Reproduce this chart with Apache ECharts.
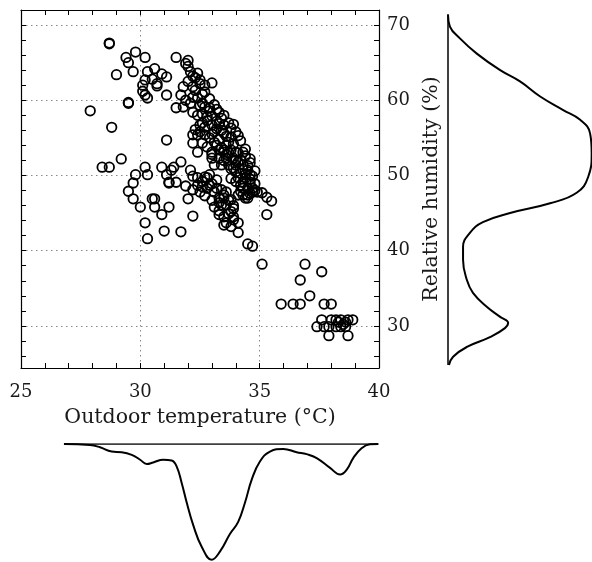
<!DOCTYPE html>
<html>
<head>
<meta charset="utf-8">
<script src="https://cdn.jsdelivr.net/npm/echarts@6/dist/echarts.min.js"></script>
<style>
  html, body { margin: 0; padding: 0; background: #fff; }
  #chart { width: 592px; height: 562px; }
</style>
</head>
<body>
<div id="chart"></div>
<script>
// scatter points: outdoor temperature (°C) and relative humidity (%)
const temps = [
  28.7, 28.7, 29.4, 29.8, 30.2, 29.5, 29.0, 29.7, 30.3, 30.6, 30.9, 31.1, 30.2, 30.5, 30.7, 30.7, 30.1, 30.1, 30.2, 30.3, 31.1, 29.5, 29.5, 27.9, 28.8, 31.1,
  31.5, 32.0, 31.9, 32.0, 32.1, 32.4, 32.3, 32.5, 33.0, 31.8, 32.2, 32.7, 31.7, 32.2, 32.7, 32.4, 31.5, 31.8, 32.2, 32.7, 33.1, 33.3, 32.4, 32.8, 33.4, 33.5, 32.5, 33.0,
  32.2, 32.4, 32.7, 33.1, 33.5, 34.0, 33.8, 32.2, 32.6, 33.1, 33.7, 32.4, 33.0, 33.5, 34.0, 34.3,
  34.6, 31.7, 31.4, 31.3, 30.9, 31.2, 31.5, 32.1, 32.2, 32.4, 32.7, 32.8, 32.4, 32.6, 32.8, 32.5, 33.1, 33.4, 33.6, 33.0, 33.3, 33.5, 33.7,
  33.1, 33.4, 33.6, 33.3, 33.8, 33.9, 33.5, 33.6, 34.1, 33.5, 34.1, 33.8, 34.5, 34.7, 35.1, 32.0, 32.2, 31.2, 31.7, 31.0,
  34.9, 35.1, 35.3, 35.5, 35.3, 34.7, 34.5, 34.4, 34.2, 34.4, 34.6,
  33.3, 33.5, 33.8, 34.1, 33.0, 33.3, 33.6, 33.9, 34.2, 33.1, 33.4, 33.7, 34.0, 34.3, 34.5, 34.0, 34.2, 34.4, 34.6, 34.1, 34.3, 34.3, 34.5, 34.1, 34.3, 34.5,
  29.2, 28.4, 28.7, 30.2, 29.8, 30.3, 31.1, 29.7, 29.5, 29.7, 30.5, 30.6, 30.0, 30.6, 30.9, 30.2, 30.3, 31.2, 32.9,
  36.9, 37.6, 36.7, 37.1, 35.9, 36.4, 36.7, 37.7, 38.0, 37.6, 38.0, 38.2, 38.4, 38.7, 38.9, 37.4, 37.7, 37.9, 38.2, 38.4, 38.6, 37.9, 38.7, 38.3, 38.5, 38.6,
  32.9, 33.2, 32.6, 32.9, 33.3, 32.8, 33.6, 33.2, 33.8, 32.3, 32.9, 32.6, 33.0, 33.6, 34.0, 33.8, 34.5, 34.6, 34.8, 34.7, 33.2, 33.0, 33.8, 33.3, 32.7, 32.2, 31.9, 33.9,
  32.5, 32.9, 33.2, 32.6, 33.0, 33.5, 32.8, 33.3, 33.7, 32.7, 33.4, 33.9, 32.5, 33.0, 33.6, 34.1,
  33.2, 33.9, 34.2, 33.4, 34.4, 33.7, 34.4, 33.5, 34.1, 34.6, 33.9, 34.8, 34.3, 34.7, 34.0, 34.8, 34.2, 34.6,
  32.6, 32.9, 33.2, 33.5, 33.8, 33.9, 33.7, 33.3, 33.9,
  32.2, 32.5, 32.0, 32.3, 32.6, 31.9, 32.1
];
const hums = [
  67.5, 67.6, 65.7, 66.4, 65.7, 65.0, 63.4, 63.8, 63.8, 64.2, 63.5, 63.1, 62.7, 62.8, 61.9, 62.2, 62.0, 61.2, 60.7, 60.3, 60.7, 59.6, 59.7, 58.6, 56.4, 54.7,
  65.7, 65.3, 64.9, 64.5, 63.8, 63.6, 63.0, 62.7, 62.3, 61.8, 61.8, 62.0, 60.7, 60.4, 61.1, 60.3, 59.0, 59.1, 58.4, 59.1, 59.4, 58.4, 58.0, 57.8, 57.6, 56.7, 56.7, 56.7,
  55.4, 55.4, 55.4, 55.8, 55.6, 55.8, 55.1, 54.3, 54.3, 54.4, 54.4, 53.1, 53.1, 53.4, 53.1, 53.1,
  52.2, 51.8, 51.1, 50.7, 51.1, 49.1, 49.1, 50.7, 49.9, 49.7, 49.8, 49.7, 48.7, 48.5, 48.3, 47.8, 47.8, 48.1, 47.8, 46.7, 47.0, 47.0, 46.7,
  45.8, 46.1, 46.1, 44.8, 45.2, 44.5, 44.5, 43.7, 43.7, 43.4, 42.4, 43.2, 40.9, 40.6, 38.2, 46.9, 44.6, 45.8, 42.5, 42.6,
  47.8, 47.7, 47.1, 46.6, 44.8, 48.3, 47.4, 47.0, 48.7, 49.7, 49.1,
  53.4, 53.1, 53.4, 53.0, 52.3, 52.3, 52.3, 52.3, 52.1, 51.4, 51.4, 51.4, 51.4, 51.4, 50.7, 50.5, 50.3, 50.1, 50.1, 49.7, 49.1, 48.3, 48.3, 47.4, 47.4, 47.0,
  52.2, 51.1, 51.1, 51.1, 50.1, 50.1, 50.1, 49.0, 47.9, 46.9, 46.9, 46.9, 45.8, 45.8, 44.8, 43.7, 41.6, 49.0, 50.1,
  38.2, 37.2, 36.1, 34.0, 32.9, 32.9, 32.9, 32.9, 32.9, 30.8, 30.8, 30.8, 30.8, 30.8, 30.8, 29.9, 29.9, 29.9, 29.9, 29.9, 29.9, 28.7, 28.7, 30.5, 30.2, 30.5,
  58.6, 57.2, 57.0, 55.0, 54.8, 53.8, 54.0, 56.2, 56.3, 56.1, 60.2, 59.6, 52.8, 52.8, 52.0, 50.9, 51.3, 49.5, 48.9, 47.8, 49.4, 48.9, 49.6, 46.4, 47.3, 48.1, 48.6, 46.0,
  59.3, 59.0, 58.8, 58.2, 57.9, 58.0, 57.3, 56.9, 57.0, 56.4, 56.0, 56.8, 55.8, 55.5, 55.2, 55.3,
  54.0, 54.2, 54.6, 53.7, 53.5, 53.0, 52.6, 52.0, 51.8, 51.7, 51.0, 50.6, 50.8, 49.9, 49.2, 48.0, 47.9, 47.6,
  49.2, 48.7, 48.3, 47.4, 46.8, 45.6, 44.9, 45.3, 44.1,
  63.2, 62.2, 62.5, 61.3, 60.8, 60.0, 59.6
];

// marginal density of humidity (right panel)
const humGrid = [71.4, 69.8, 68.2, 66.2, 64.0, 62.5, 60.5, 58.7, 57.4, 55.6, 53.0, 49.8, 47.7, 46.3, 45.0, 43.8, 42.4, 40.5, 38.8, 36.1, 34.4, 32.5, 31.2, 30.4, 29.7, 28.5, 27.2, 25.9, 24.8];
const humDensity = [0, 0.0006, 0.0038, 0.009, 0.0163, 0.0225, 0.0288, 0.036, 0.0413, 0.0444, 0.0449, 0.0438, 0.0402, 0.0319, 0.0194, 0.0109, 0.0069, 0.0047, 0.0047, 0.0059, 0.0078, 0.0122, 0.0163, 0.0188, 0.0178, 0.0131, 0.0059, 0.0016, 0.0003];

// marginal density of temperature (bottom panel)
const tempGrid = [26.80, 27.89, 28.31, 28.80, 29.22, 29.64, 29.99, 30.27, 30.54, 30.96, 31.31, 31.52, 31.73, 31.94, 32.22, 32.57, 32.99, 33.34, 33.76, 34.10, 34.39, 34.67, 35.01, 35.43, 35.99, 36.55, 36.97, 37.39, 37.95, 38.37, 38.65, 38.92, 39.27, 39.62, 39.97];
const tempDensity = [0, 0.0025, 0.0083, 0.0193, 0.0208, 0.0275, 0.04, 0.0508, 0.0468, 0.04, 0.0418, 0.0568, 0.0983, 0.148, 0.207, 0.261, 0.294, 0.273, 0.228, 0.198, 0.148, 0.09, 0.0443, 0.0193, 0.0125, 0.0208, 0.0258, 0.0358, 0.0608, 0.0775, 0.065, 0.0358, 0.0108, 0.0008, 0];

// tick labels
const xTicks = [25, 30, 35, 40];
const yTicks = [30, 40, 50, 60, 70];
const yMinorTicks = [];
for (let v = 26; v <= 72; v += 2) yMinorTicks.push(v);

const FONT = "'DejaVu Serif', 'Liberation Serif', serif";
const INK = '#000';
const TEXT = '#1a1a1a';

const chart = echarts.init(document.getElementById('chart'));

const boxLine = { show: true, onZero: false, lineStyle: { color: INK, width: 1.2 } };
const hidden = {
  axisLine: { show: false }, axisTick: { show: false },
  axisLabel: { show: false }, splitLine: { show: false }
};

const option = {
  animation: false,
  backgroundColor: '#fff',
  grid: [
    { left: 21, top: 10, width: 358, height: 358 },
    { left: 448, top: 10, width: 144, height: 358 },
    { left: 21, top: 444, width: 358, height: 120 }
  ],
  xAxis: [
    {
      type: 'value', gridIndex: 0, position: 'bottom',
      min: 25, max: 40, interval: 5,
      axisLine: boxLine,
      axisTick: { show: true, inside: true, length: 5, lineStyle: { color: INK, width: 1 } },
      minorTick: { show: true, splitNumber: 5, length: 5, lineStyle: { color: INK, width: 1 } },
      axisLabel: {
        customValues: xTicks, margin: 15,
        fontFamily: FONT, fontSize: 18, color: TEXT
      },
      splitLine: { show: true, lineStyle: { color: '#888', width: 1, type: [1.5, 3.5] } },
      name: 'Outdoor temperature (°C)', nameLocation: 'middle', nameGap: 39,
      nameTextStyle: { fontFamily: FONT, fontSize: 20.5, color: TEXT }
    },
    {
      type: 'value', gridIndex: 0, position: 'top',
      min: 25, max: 40, interval: 5,
      axisLine: boxLine,
      axisTick: { show: true, inside: true, length: 5, lineStyle: { color: INK, width: 1 } },
      minorTick: { show: true, splitNumber: 5, length: 5, lineStyle: { color: INK, width: 1 } },
      axisLabel: { show: false },
      splitLine: { show: false }
    },
    Object.assign({ type: 'value', gridIndex: 1, min: 0, max: 0.045 }, hidden),
    Object.assign({ type: 'value', gridIndex: 2, min: 25, max: 40 }, hidden)
  ],
  yAxis: [
    {
      type: 'value', gridIndex: 0, position: 'right',
      min: 24.4, max: 72,
      axisLine: boxLine,
      axisTick: { show: true, inside: true, length: 5, customValues: yMinorTicks, lineStyle: { color: INK, width: 1 } },
      axisLabel: {
        customValues: yTicks, margin: 8,
        fontFamily: FONT, fontSize: 18, color: TEXT
      },
      splitLine: { show: false },
      name: 'Relative humidity (%)', nameLocation: 'middle', nameGap: 39, nameRotate: 90,
      nameTextStyle: { fontFamily: FONT, fontSize: 20.5, color: TEXT }
    },
    {
      type: 'value', gridIndex: 0, position: 'left',
      min: 24.4, max: 72,
      axisLine: boxLine,
      axisTick: { show: true, inside: true, length: 5, customValues: yMinorTicks, lineStyle: { color: INK, width: 1 } },
      axisLabel: { show: false },
      splitLine: { show: false }
    },
    {
      type: 'value', gridIndex: 0, position: 'left',
      min: 24.4, max: 72,
      axisLine: { show: false },
      axisTick: { show: false, customValues: yTicks },
      axisLabel: { show: false },
      splitLine: { show: true, lineStyle: { color: '#888', width: 1, type: [1.5, 3.5] } }
    },
    Object.assign({ type: 'value', gridIndex: 1, min: 24.4, max: 72 }, hidden),
    Object.assign({ type: 'value', gridIndex: 2, min: 0, max: 0.3, inverse: true }, hidden)
  ],
  series: [
    {
      type: 'scatter', xAxisIndex: 0, yAxisIndex: 0,
      symbol: 'circle', symbolSize: 9.5,
      itemStyle: { color: 'rgba(0,0,0,0)', borderColor: INK, borderWidth: 1.8, opacity: 1 },
      emphasis: { disabled: true },
      data: temps.map((t, i) => [t, hums[i]]),
      z: 5
    },
    {
      type: 'line', xAxisIndex: 2, yAxisIndex: 3,
      showSymbol: false, smooth: 0.45,
      lineStyle: { color: INK, width: 2 },
      data: humGrid.map((h, i) => [humDensity[i], h])
    },
    {
      type: 'line', xAxisIndex: 2, yAxisIndex: 3,
      showSymbol: false,
      lineStyle: { color: INK, width: 1.5 },
      data: [[0, humGrid[0]], [0, humGrid[humGrid.length - 1]]]
    },
    {
      type: 'line', xAxisIndex: 3, yAxisIndex: 4,
      showSymbol: false, smooth: 0.45,
      lineStyle: { color: INK, width: 2 },
      data: tempGrid.map((t, i) => [t, tempDensity[i]])
    },
    {
      type: 'line', xAxisIndex: 3, yAxisIndex: 4,
      showSymbol: false,
      lineStyle: { color: INK, width: 1.5 },
      data: [[tempGrid[0], 0], [tempGrid[tempGrid.length - 1], 0]]
    }
  ]
};

chart.setOption(option);
</script>
</body>
</html>
